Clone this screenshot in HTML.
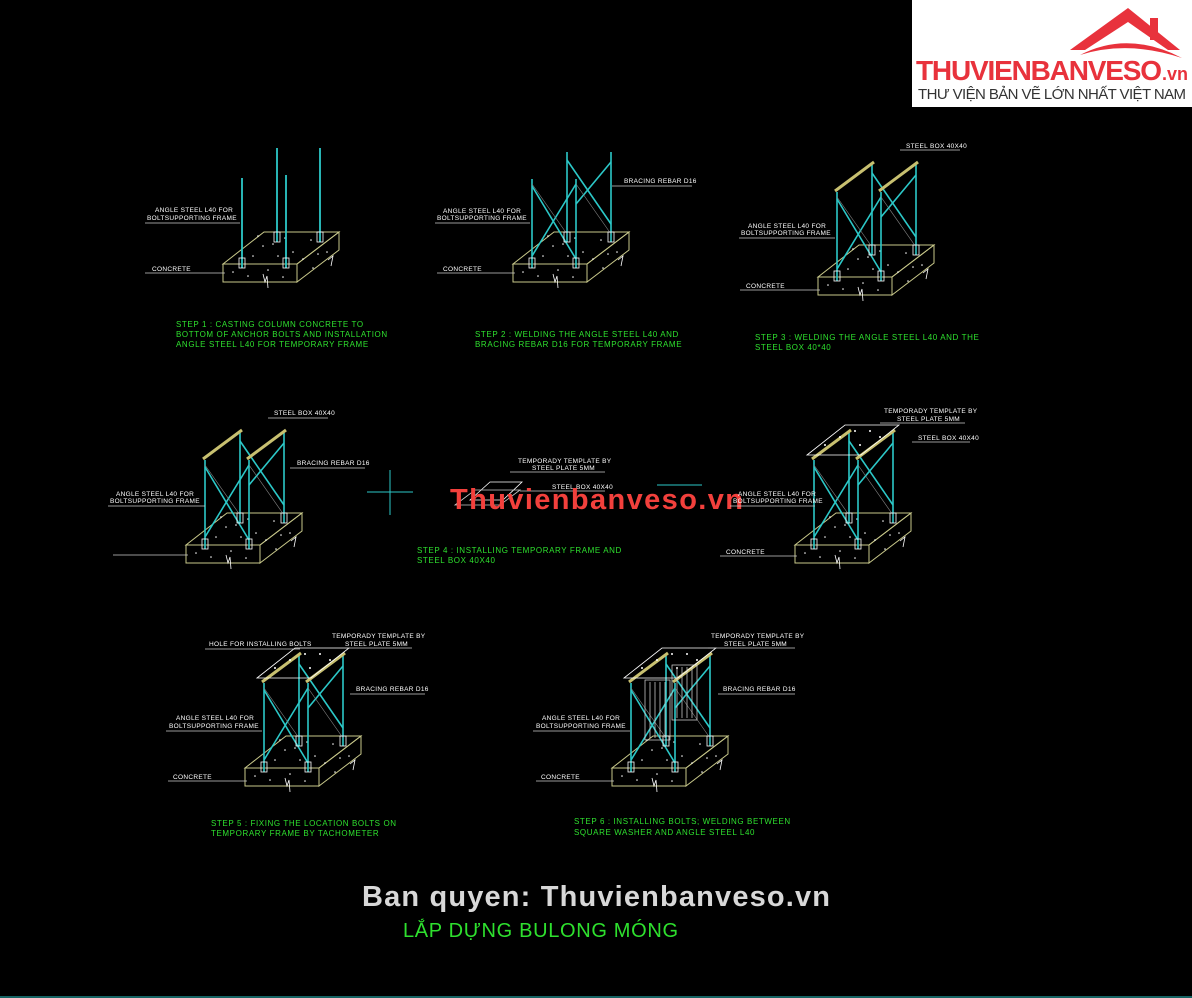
<!DOCTYPE html>
<html><head><meta charset="utf-8"><style>
html,body{margin:0;padding:0;background:#000;}
svg{display:block}
.l{font-family:"Liberation Sans",sans-serif;font-size:6.5px;fill:#fff;letter-spacing:0.3px}
.g{font-family:"Liberation Sans",sans-serif;font-size:8px;fill:#2ee02e;letter-spacing:0.6px}
</style></head><body>
<svg width="1192" height="998" viewBox="0 0 1192 998" xmlns="http://www.w3.org/2000/svg">
<defs>
<g id="blk">
 <polygon points="41,-32 116,-32 74,0 0,0" fill="none" stroke="#c8c88a" stroke-width="1"/>
 <polygon points="0,0 74,0 74,18 0,18" fill="none" stroke="#c8c88a" stroke-width="1"/>
 <polygon points="74,0 116,-32 116,-14 74,18" fill="none" stroke="#c8c88a" stroke-width="1"/>
 <g fill="#fff">
  <circle cx="50" cy="-20" r="0.8"/><circle cx="70" cy="-12" r="0.8"/><circle cx="30" cy="-8" r="0.8"/><circle cx="88" cy="-24" r="0.8"/><circle cx="95" cy="-10" r="0.8"/><circle cx="62" cy="-26" r="0.8"/><circle cx="40" cy="-18" r="0.8"/><circle cx="80" cy="-5" r="0.8"/><circle cx="10" cy="8" r="0.8"/><circle cx="25" cy="12" r="0.8"/><circle cx="45" cy="6" r="0.8"/><circle cx="60" cy="13" r="0.8"/><circle cx="90" cy="4" r="0.8"/><circle cx="104" cy="-12" r="0.8"/><circle cx="55" cy="-8" r="0.8"/><circle cx="35" cy="-28" r="0.8"/>
 </g>
 <polyline points="40,10 42,18 44,12 45,24" fill="none" stroke="#fff" stroke-width="0.8"/>
 <polyline points="105,-4 110,-8 108,2" fill="none" stroke="#fff" stroke-width="0.8"/>
</g>
<g id="fr">
 <g stroke="#2cc8c8" stroke-width="1.6">
  <line x1="19" y1="4" x2="19" y2="-85"/><line x1="63" y1="4" x2="63" y2="-85"/>
  <line x1="54" y1="-22" x2="54" y2="-112"/><line x1="98" y1="-22" x2="98" y2="-112"/>
  <line x1="19" y1="-78" x2="63" y2="-5"/><line x1="63" y1="-80" x2="19" y2="-8"/>
  <line x1="54" y1="-104" x2="98" y2="-40"/><line x1="98" y1="-102" x2="63" y2="-60"/>
 </g>
 <g stroke="#888" stroke-width="0.6"><line x1="19" y1="-80" x2="54" y2="-30"/><line x1="63" y1="-80" x2="98" y2="-30"/></g>
 <g fill="none" stroke="#fff" stroke-width="0.8"><rect x="16" y="-6" width="6" height="10"/><rect x="60" y="-6" width="6" height="10"/><rect x="51" y="-32" width="6" height="10"/><rect x="95" y="-32" width="6" height="10"/></g>
</g>
<g id="bx" stroke="#c8c070" stroke-width="3"><line x1="17" y1="-86" x2="56" y2="-115"/><line x1="61" y1="-86" x2="100" y2="-115"/></g>
<g id="pl"><polygon points="12,-90 50,-120 104,-120 66,-90" fill="none" stroke="#fff" stroke-width="0.8"/>
 <g fill="#fff"><circle cx="30" cy="-100" r="1"/><circle cx="45" cy="-108" r="1"/><circle cx="60" cy="-114" r="1"/><circle cx="75" cy="-114" r="1"/><circle cx="65" cy="-100" r="1"/><circle cx="85" cy="-108" r="1"/></g></g>
</defs>

<!-- logo -->
<rect x="912" y="0" width="280" height="107" fill="#fff"/>
<polygon points="1070,50 1128,8 1180,50 1168,50 1128,22 1085,50" fill="#e8323c"/>
<rect x="1150" y="18" width="8" height="22" fill="#e8323c"/>
<path d="M1080 55 Q1128 30 1182 58 Q1128 40 1080 55Z" fill="#e8323c"/>
<text x="916" y="80" font-family="Liberation Sans,sans-serif" font-weight="bold" font-size="28" fill="#e8323c" textLength="246">THUVIENBANVESO</text>
<text x="1162" y="80" font-family="Liberation Sans,sans-serif" font-weight="bold" font-size="18" fill="#e8323c">.vn</text>
<text x="918" y="99" font-family="Liberation Sans,sans-serif" font-size="15" fill="#333" textLength="268">THƯ VIỆN BẢN VẼ LỚN NHẤT VIỆT NAM</text>

<!-- step1 -->
<use href="#blk" transform="translate(223,264)"/>
<g stroke="#2cc8c8" stroke-width="1.8"><line x1="242" y1="268" x2="242" y2="178"/><line x1="286" y1="268" x2="286" y2="175"/><line x1="277" y1="242" x2="277" y2="148"/><line x1="320" y1="242" x2="320" y2="148"/></g>
<g fill="none" stroke="#fff" stroke-width="0.8"><rect x="239" y="258" width="6" height="10"/><rect x="283" y="258" width="6" height="10"/><rect x="274" y="232" width="6" height="10"/><rect x="317" y="232" width="6" height="10"/></g>
<text class="l" x="155" y="212">ANGLE STEEL L40 FOR</text><text class="l" x="147" y="220">BOLTSUPPORTING FRAME</text>
<line x1="145" y1="223" x2="240" y2="223" stroke="#ccc" stroke-width="0.8"/>
<text class="l" x="152" y="271">CONCRETE</text><line x1="145" y1="273" x2="225" y2="273" stroke="#ccc" stroke-width="0.8"/>
<text class="g" x="176" y="327">STEP 1 : CASTING COLUMN CONCRETE TO</text>
<text class="g" x="176" y="337">BOTTOM OF ANCHOR BOLTS AND INSTALLATION</text>
<text class="g" x="176" y="347">ANGLE STEEL L40 FOR TEMPORARY FRAME</text>

<!-- step2 -->
<use href="#blk" transform="translate(513,264)"/><use href="#fr" transform="translate(513,264)"/>
<text class="l" x="443" y="213">ANGLE STEEL L40 FOR</text><text class="l" x="437" y="220">BOLTSUPPORTING FRAME</text>
<line x1="435" y1="223" x2="530" y2="223" stroke="#ccc" stroke-width="0.8"/>
<text class="l" x="443" y="271">CONCRETE</text><line x1="437" y1="273" x2="515" y2="273" stroke="#ccc" stroke-width="0.8"/>
<text class="l" x="624" y="183">BRACING REBAR D16</text><line x1="612" y1="186" x2="692" y2="186" stroke="#ccc" stroke-width="0.8"/>
<text class="g" x="475" y="337">STEP 2 : WELDING THE ANGLE STEEL L40 AND</text>
<text class="g" x="475" y="347">BRACING REBAR D16 FOR TEMPORARY FRAME</text>

<!-- step3 -->
<use href="#blk" transform="translate(818,277)"/><use href="#fr" transform="translate(818,277)"/><use href="#bx" transform="translate(818,277)"/>
<text class="l" x="906" y="148">STEEL BOX 40X40</text><line x1="900" y1="150" x2="960" y2="150" stroke="#ccc" stroke-width="0.8"/>
<text class="l" x="748" y="228">ANGLE STEEL L40 FOR</text><text class="l" x="741" y="235">BOLTSUPPORTING FRAME</text>
<line x1="739" y1="238" x2="835" y2="238" stroke="#ccc" stroke-width="0.8"/>
<text class="l" x="746" y="288">CONCRETE</text><line x1="740" y1="290" x2="820" y2="290" stroke="#ccc" stroke-width="0.8"/>
<text class="g" x="755" y="340">STEP 3 : WELDING THE  ANGLE STEEL L40 AND THE</text>
<text class="g" x="755" y="350">STEEL BOX 40*40</text>

<!-- step4 left -->
<use href="#blk" transform="translate(186,545)"/><use href="#fr" transform="translate(186,545)"/><use href="#bx" transform="translate(186,545)"/>
<text class="l" x="274" y="415">STEEL BOX 40X40</text><line x1="268" y1="418" x2="328" y2="418" stroke="#ccc" stroke-width="0.8"/>
<text class="l" x="297" y="465">BRACING REBAR D16</text><line x1="290" y1="468" x2="365" y2="468" stroke="#ccc" stroke-width="0.8"/>
<text class="l" x="116" y="496">ANGLE STEEL L40 FOR</text><text class="l" x="110" y="503">BOLTSUPPORTING FRAME</text>
<line x1="108" y1="506" x2="205" y2="506" stroke="#ccc" stroke-width="0.8"/>
<line x1="113" y1="555" x2="188" y2="555" stroke="#ccc" stroke-width="0.8"/>

<!-- step4 center -->
<g stroke="#2cc8c8" stroke-width="1"><line x1="367" y1="492" x2="413" y2="492"/><line x1="390" y1="470" x2="390" y2="515"/><line x1="657" y1="485" x2="702" y2="485"/></g>
<polygon points="470,500 490,482 522,482 503,500" fill="none" stroke="#fff" stroke-width="0.8"/>
<polygon points="455,505 475,490 520,490 500,505" fill="none" stroke="#ccc" stroke-width="0.8"/>
<text class="l" x="518" y="463">TEMPORADY TEMPLATE BY</text><text class="l" x="532" y="470">STEEL PLATE 5MM</text>
<line x1="510" y1="472" x2="605" y2="472" stroke="#ccc" stroke-width="0.8"/>
<text class="l" x="552" y="489">STEEL BOX 40X40</text><line x1="520" y1="491" x2="605" y2="491" stroke="#ccc" stroke-width="0.8"/>
<text x="450" y="509" font-family="Liberation Sans,sans-serif" font-weight="bold" font-size="29" fill="#f2403c" textLength="292" letter-spacing="-1">Thuvienbanveso.vn</text>
<text class="g" x="417" y="553">STEP 4 : INSTALLING TEMPORARY FRAME AND</text>
<text class="g" x="417" y="563">STEEL BOX  40X40</text>

<!-- step4 right -->
<use href="#blk" transform="translate(795,545)"/><use href="#fr" transform="translate(795,545)"/><use href="#bx" transform="translate(795,545)"/><use href="#pl" transform="translate(795,545)"/>
<text class="l" x="884" y="413">TEMPORADY TEMPLATE BY</text><text class="l" x="897" y="421">STEEL PLATE 5MM</text>
<line x1="880" y1="423" x2="965" y2="423" stroke="#ccc" stroke-width="0.8"/>
<text class="l" x="918" y="440">STEEL BOX 40X40</text><line x1="912" y1="442" x2="970" y2="442" stroke="#ccc" stroke-width="0.8"/>
<text class="l" x="738" y="496">ANGLE STEEL L40 FOR</text><text class="l" x="733" y="503">BOLTSUPPORTING FRAME</text>
<line x1="730" y1="506" x2="815" y2="506" stroke="#ccc" stroke-width="0.8"/>
<text class="l" x="726" y="554">CONCRETE</text><line x1="720" y1="556" x2="797" y2="556" stroke="#ccc" stroke-width="0.8"/>

<!-- step5 -->
<use href="#blk" transform="translate(245,768)"/><use href="#fr" transform="translate(245,768)"/><use href="#bx" transform="translate(245,768)"/><use href="#pl" transform="translate(245,768)"/>
<text class="l" x="209" y="646">HOLE FOR INSTALLING BOLTS</text><line x1="205" y1="649" x2="300" y2="649" stroke="#ccc" stroke-width="0.8"/>
<text class="l" x="332" y="638">TEMPORADY TEMPLATE BY</text><text class="l" x="345" y="646">STEEL PLATE 5MM</text>
<line x1="330" y1="648" x2="412" y2="648" stroke="#ccc" stroke-width="0.8"/>
<text class="l" x="356" y="691">BRACING REBAR D16</text><line x1="350" y1="694" x2="425" y2="694" stroke="#ccc" stroke-width="0.8"/>
<text class="l" x="176" y="720">ANGLE STEEL L40 FOR</text><text class="l" x="169" y="728">BOLTSUPPORTING FRAME</text>
<line x1="166" y1="731" x2="262" y2="731" stroke="#ccc" stroke-width="0.8"/>
<text class="l" x="173" y="779">CONCRETE</text><line x1="168" y1="781" x2="247" y2="781" stroke="#ccc" stroke-width="0.8"/>
<text class="g" x="211" y="826">STEP 5 : FIXING THE LOCATION BOLTS ON</text>
<text class="g" x="211" y="836">TEMPORARY FRAME BY TACHOMETER</text>

<!-- step6 -->
<use href="#blk" transform="translate(612,768)"/><use href="#fr" transform="translate(612,768)"/><use href="#bx" transform="translate(612,768)"/><use href="#pl" transform="translate(612,768)"/>
<g stroke="#ddd" stroke-width="0.7"><rect x="645" y="680" width="25" height="60" fill="none"/><rect x="672" y="665" width="25" height="55" fill="none"/>
<line x1="650" y1="682" x2="650" y2="738"/><line x1="655" y1="682" x2="655" y2="738"/><line x1="660" y1="682" x2="660" y2="738"/><line x1="665" y1="682" x2="665" y2="738"/>
<line x1="677" y1="667" x2="677" y2="718"/><line x1="682" y1="667" x2="682" y2="718"/><line x1="687" y1="667" x2="687" y2="718"/><line x1="692" y1="667" x2="692" y2="718"/></g>
<text class="l" x="711" y="638">TEMPORADY TEMPLATE BY</text><text class="l" x="724" y="646">STEEL PLATE 5MM</text>
<line x1="708" y1="648" x2="795" y2="648" stroke="#ccc" stroke-width="0.8"/>
<text class="l" x="723" y="691">BRACING REBAR D16</text><line x1="718" y1="694" x2="795" y2="694" stroke="#ccc" stroke-width="0.8"/>
<text class="l" x="542" y="720">ANGLE STEEL L40 FOR</text><text class="l" x="536" y="728">BOLTSUPPORTING FRAME</text>
<line x1="533" y1="731" x2="630" y2="731" stroke="#ccc" stroke-width="0.8"/>
<text class="l" x="541" y="779">CONCRETE</text><line x1="536" y1="781" x2="614" y2="781" stroke="#ccc" stroke-width="0.8"/>
<text class="g" x="574" y="824">STEP 6 : INSTALLING BOLTS; WELDING BETWEEN</text>
<text class="g" x="574" y="835">SQUARE WASHER AND ANGLE STEEL L40</text>

<!-- footer -->
<text x="362" y="906" font-family="Liberation Sans,sans-serif" font-weight="bold" font-size="29" fill="#d8d8d8" textLength="468">Ban quyen: Thuvienbanveso.vn</text>
<text x="403" y="937" font-family="Liberation Sans,sans-serif" font-size="20" fill="#2ee02e" textLength="275">LẮP DỰNG BULONG MÓNG</text>
<line x1="0" y1="997" x2="1192" y2="997" stroke="#2cc8c8" stroke-width="1"/>
</svg>
</body></html>
